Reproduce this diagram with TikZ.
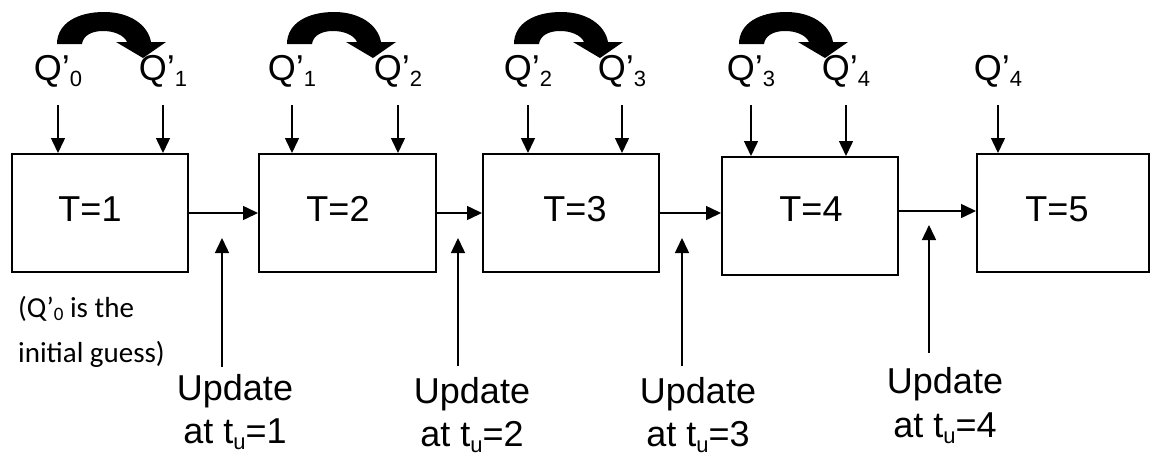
\documentclass[tikz,border=0pt]{standalone}
\usepackage{fontspec}
\setmainfont{Liberation Sans}
\newfontfamily\calibfont{Carlito}
\usetikzlibrary{arrows.meta}
\newcommand\sbx[1]{\raisebox{-6pt}{\fontsize{22}{22}\selectfont #1}}
\newcommand\sbc[1]{\raisebox{-3pt}{\fontsize{19}{19}\selectfont #1}}
\begin{document}
\begin{tikzpicture}[x=1pt,y=-1pt,
  box/.style={draw,line width=2pt,inner sep=0pt,anchor=north west},
  big/.style={inner sep=0pt,anchor=base,font=\fontsize{36}{40}\selectfont},
  small/.style={inner sep=0pt,anchor=base west,font=\calibfont\fontsize{29}{34}\selectfont},
  arr/.style={line width=1.5pt,-{Triangle[length=15pt,width=14pt]}}]
\fill[white] (0,0) rectangle (1150,456);
\useasboundingbox (0,0) rectangle (1150,456);
% boxes
\node[box,minimum width=176pt,minimum height=118pt] (b1) at (11,153) {};
\node[box,minimum width=177pt,minimum height=118pt] (b2) at (258,153) {};
\node[box,minimum width=176pt,minimum height=118pt] (b3) at (482,153) {};
\node[box,minimum width=176pt,minimum height=118pt] (b4) at (721,156) {};
\node[box,minimum width=172pt,minimum height=118pt] (b5) at (976,153) {};
% box labels
\node[big] (t1) at (90,221) {T=1};
\node[big] (t2) at (338,221) {T=2};
\node[big] (t3) at (575,221) {T=3};
\node[big] (t4) at (811,221) {T=4};
\node[big] (t5) at (1057,221) {T=5};
% horizontal arrows
\draw[arr] (b1.east) -- (b2.west);
\draw[arr] (b2.east) -- (b3.west);
\draw[arr] (b3.east) -- (b4.west |- b3.east);
\draw[arr] ([yshift=5pt]b4.east) -- ([yshift=2pt]b5.west);
% Q labels
\node[big] (q10) at (58,80) {Q’\sbx{0}};
\node[big] (q11) at (163,80) {Q’\sbx{1}};
\node[big] (q21) at (292,80) {Q’\sbx{1}};
\node[big] (q22) at (398,80) {Q’\sbx{2}};
\node[big] (q32) at (528,80) {Q’\sbx{2}};
\node[big] (q33) at (622,80) {Q’\sbx{3}};
\node[big] (q43) at (751,80) {Q’\sbx{3}};
\node[big] (q44) at (846,80) {Q’\sbx{4}};
\node[big] (q54) at (998,80) {Q’\sbx{4}};
% down arrows
\foreach \q/\b in {q10/b1,q11/b1,q21/b2,q22/b2,q32/b3,q33/b3,q43/b4,q44/b4,q54/b5}{
  \coordinate (s\q) at ([yshift=-25pt]\q.base);
  \draw[arr] (s\q) -- (s\q |- \b.north);
}
% curved thick arrows
\foreach \dx in {0,230,457,682}{
  \fill[shift={(\dx,0)}] (57,44) .. controls (57,23) and (78,12) .. (104,12)
     .. controls (130,12) and (148,25) .. (151,42) -- (166,42) -- (143,58) -- (116,42) -- (127,42)
     .. controls (124,35) and (114,31) .. (103,31) .. controls (91,31) and (83,36) .. (82,44) -- cycle;
}
% update labels
\node[big] (u1a) at (235,400) {Update};
\node[big] (u1b) at (235,443) {at t\sbx{u}=1};
\node[big] (u2a) at (472,403) {Update};
\node[big] (u2b) at (472,446) {at t\sbx{u}=2};
\node[big] (u3a) at (698,403) {Update};
\node[big] (u3b) at (698,446) {at t\sbx{u}=3};
\node[big] (u4a) at (945,393) {Update};
\node[big] (u4b) at (945,437) {at t\sbx{u}=4};
% update arrows
\coordinate (p1s) at (222,367); \coordinate (p1e) at (222,238);
\coordinate (p2s) at (458,366); \coordinate (p2e) at (458,238);
\coordinate (p3s) at (682,366); \coordinate (p3e) at (682,238);
\coordinate (p4s) at (929,353); \coordinate (p4e) at (929,225);
\draw[arr] (p1s) -- (p1e);
\draw[arr] (p2s) -- (p2e);
\draw[arr] (p3s) -- (p3e);
\draw[arr] (p4s) -- (p4e);
% note
\node[small] (n1) at (18,317) {(Q’\sbc{0} is the};
\node[small] (n2) at (18,362) {initial guess)};
\end{tikzpicture}
\end{document}
